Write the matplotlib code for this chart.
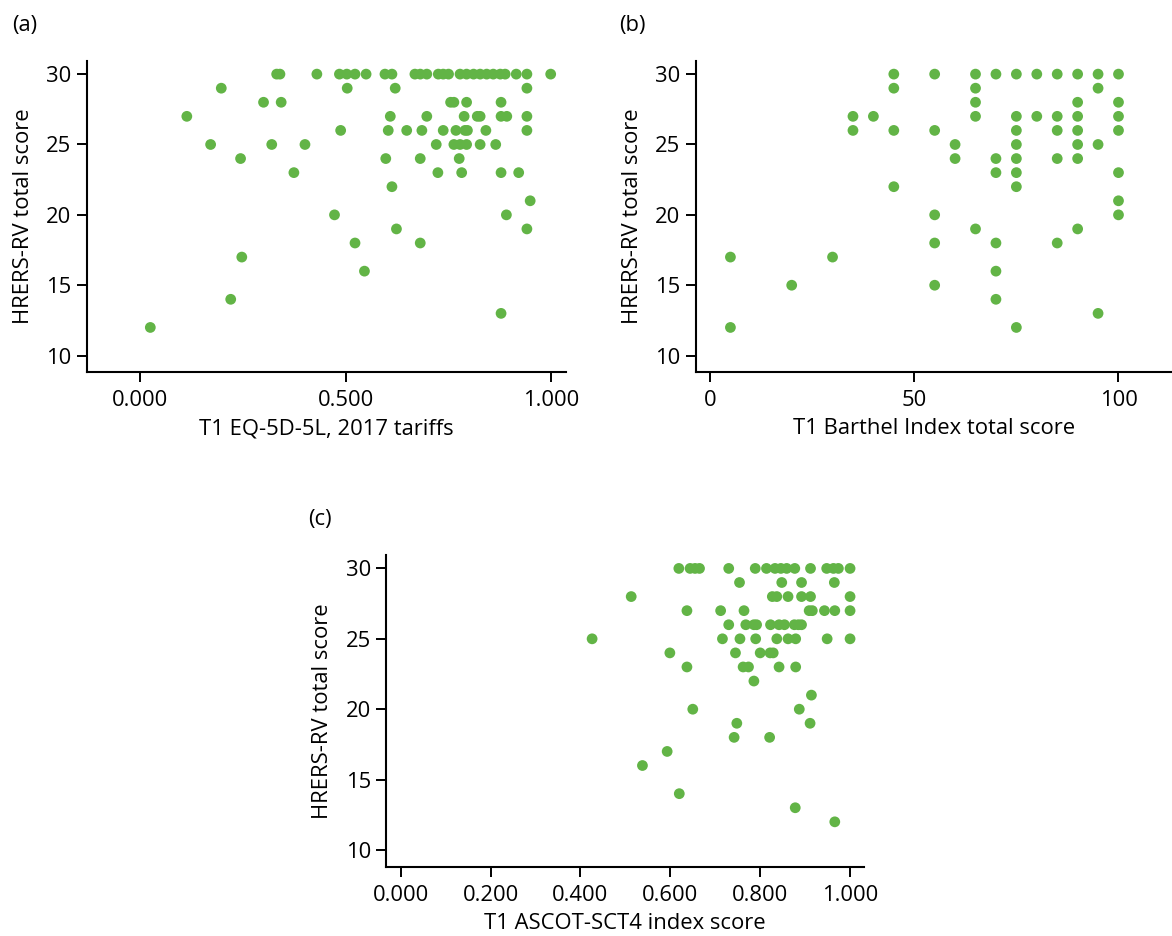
import numpy as np
import matplotlib
matplotlib.use('Agg')
import matplotlib.pyplot as plt
from matplotlib.ticker import FormatStrFormatter

plt.rcParams['font.family'] = ['Open Sans', 'DejaVu Sans']

# (a) EQ-5D-5L vs HRERS-RV
eq5d_x = [0.332, 0.340, 0.430, 0.485, 0.503, 0.523, 0.550, 0.596, 0.613, 0.669, 0.682, 0.698,
          0.726, 0.738, 0.751, 0.779, 0.795, 0.812, 0.828, 0.844, 0.860, 0.877, 0.889, 0.916,
          0.942, 1.000,
          0.197, 0.504, 0.621, 0.942,
          0.300, 0.343, 0.756, 0.764, 0.795, 0.879,
          0.113, 0.609, 0.698, 0.789, 0.821, 0.828, 0.879, 0.893, 0.942,
          0.488, 0.604, 0.649, 0.686, 0.738, 0.769, 0.791, 0.797, 0.842, 0.942,
          0.171, 0.320, 0.401, 0.721, 0.764, 0.779, 0.795, 0.828, 0.866,
          0.244, 0.598, 0.682, 0.777,
          0.374, 0.725, 0.783, 0.879, 0.922,
          0.613, 0.950, 0.473, 0.892, 0.624, 0.942, 0.523, 0.682,
          0.247, 0.546, 0.220, 0.879, 0.024]
eq5d_y = [30] * 26 + [29] * 4 + [28] * 6 + [27] * 9 + [26] * 10 + [25] * 9 + [24] * 4 \
    + [23] * 5 + [22, 21, 20, 20, 19, 19, 18, 18, 17, 16, 14, 13, 12]

# (b) Barthel Index vs HRERS-RV
barthel_x = [45, 55, 65, 70, 75, 80, 85, 90, 95, 100,
             45, 65, 95,
             65, 90, 100,
             35, 40, 65, 75, 80, 85, 90, 100,
             35, 45, 55, 75, 85, 90, 100,
             60, 75, 90, 95,
             60, 70, 75, 85, 90,
             70, 75, 100,
             45, 75, 100, 55, 100, 65, 90, 55, 70, 85,
             5, 30, 70, 20, 55, 70, 95, 5, 75]
barthel_y = [30] * 10 + [29] * 3 + [28] * 3 + [27] * 8 + [26] * 7 + [25] * 4 + [24] * 5 \
    + [23] * 3 + [22, 22, 21, 20, 20, 19, 19, 18, 18, 18,
                  17, 17, 16, 15, 15, 14, 13, 12, 12]

# (c) ASCOT-SCT4 vs HRERS-RV
ascot_x = [0.619, 0.644, 0.655, 0.665, 0.730, 0.789, 0.814, 0.833, 0.846, 0.859, 0.877,
           0.912, 0.948, 0.963, 0.974, 1.000,
           0.754, 0.848, 0.892, 0.965,
           0.513, 0.827, 0.837, 0.862, 0.892, 0.912, 1.000,
           0.637, 0.712, 0.764, 0.909, 0.916, 0.943, 0.966, 1.000,
           0.730, 0.768, 0.786, 0.792, 0.823, 0.842, 0.854, 0.876, 0.885, 0.892,
           0.426, 0.716, 0.755, 0.790, 0.837, 0.862, 0.879, 0.949, 1.000,
           0.599, 0.745, 0.800, 0.822, 0.829,
           0.637, 0.762, 0.774, 0.842, 0.879,
           0.786, 0.914, 0.650, 0.887, 0.748, 0.911, 0.742, 0.821,
           0.593, 0.538, 0.620, 0.878, 0.966]
ascot_y = [30] * 16 + [29] * 4 + [28] * 7 + [27] * 8 + [26] * 10 + [25] * 9 + [24] * 5 \
    + [23] * 5 + [22, 21, 20, 20, 19, 19, 18, 18, 17, 16, 14, 13, 12]

green = '#62b446'
ylabel = 'HRERS-RV total score'
fs = 15.8

fig = plt.figure(figsize=(11.72, 9.36), dpi=100)
ax_a = fig.add_axes([0.074, 0.6022, 0.409, 0.3329])
ax_b = fig.add_axes([0.5936, 0.6022, 0.4064, 0.3329])
ax_c = fig.add_axes([0.3294, 0.074, 0.4078, 0.333])

panels = [
    (ax_a, eq5d_x, eq5d_y, 'T1 EQ-5D-5L, 2017 tariffs', (-0.131, 1.0375), [0, 0.5, 1.0], '%.3f'),
    (ax_b, barthel_x, barthel_y, 'T1 Barthel Index total score', (-3.5, 113.1), [0, 50, 100], '%d'),
    (ax_c, ascot_x, ascot_y, 'T1 ASCOT-SCT4 index score', (-0.0325, 1.031),
     [0, 0.2, 0.4, 0.6, 0.8, 1.0], '%.3f'),
]

for ax, xs, ys, xlabel, xlim, xticks, fmt in panels:
    ax.scatter(xs, ys, s=60, color=green, edgecolors='none', zorder=3, clip_on=False)
    ax.set_xlim(*xlim)
    ax.set_ylim(8.81, 30.95)
    ax.set_xticks(xticks)
    ax.xaxis.set_major_formatter(FormatStrFormatter(fmt))
    ax.set_yticks([10, 15, 20, 25, 30])
    for side in ['top', 'right']:
        ax.spines[side].set_visible(False)
    for side in ['left', 'bottom']:
        ax.spines[side].set_linewidth(1.5)
    ax.tick_params(axis='both', labelsize=fs, length=7, width=1.4, pad=4)
    ax.tick_params(axis='x', pad=6)
    ax.set_xlabel(xlabel, fontsize=fs, labelpad=5)
    ax.set_ylabel(ylabel, fontsize=fs, labelpad=9)

fig.text(25 / 1172, 1 - 25 / 936, '(a)', fontsize=fs, ha='center', va='center')
fig.text(632 / 1172, 1 - 25 / 936, '(b)', fontsize=fs, ha='center', va='center')
fig.text(320 / 1172, 1 - 519 / 936, '(c)', fontsize=fs, ha='center', va='center')

plt.savefig('out.png', dpi=100)
